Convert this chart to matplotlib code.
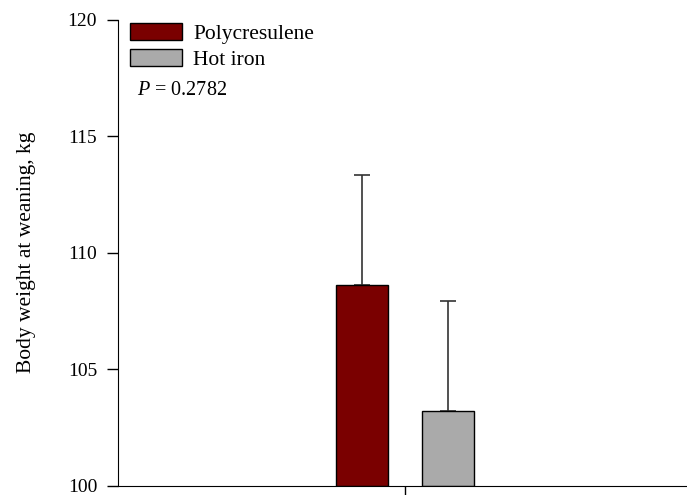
import matplotlib
matplotlib.use("Agg")
import matplotlib.pyplot as plt
import numpy as np

plt.rcParams['font.family'] = ['Liberation Serif', 'DejaVu Serif']
plt.rcParams['mathtext.fontset'] = 'custom'
plt.rcParams['mathtext.rm'] = 'Liberation Serif'
plt.rcParams['mathtext.it'] = 'Liberation Serif:italic'

# donnees
groupes = ["Polycresulene", "Hot iron"]
moyennes = [108.6, 103.2]
erreurs = [4.75, 4.75]
couleurs = ["#7a0000", "#aaaaaa"]
p_valeur = "0.2782"

fig = plt.figure(figsize=(6.87, 4.95), dpi=100)
ax = fig.add_axes([0.1718, 0.019, 0.8355, 0.9406])

pos = np.array([-0.5, 0.5])
for i in range(len(groupes)):
    ax.bar(pos[i], moyennes[i] - 100, bottom=100, width=0.61,
           color=couleurs[i], edgecolor="black", linewidth=1.0,
           label=groupes[i], zorder=2)
    ax.errorbar(pos[i], moyennes[i], yerr=[[0], [erreurs[i]]], fmt="none",
                ecolor="#333333", elinewidth=1.2, capsize=6, capthick=1.2,
                zorder=1)

ax.set_xlim(-3.36, 3.36)
ax.set_ylim(100, 120)
ax.set_yticks([100, 105, 110, 115, 120])
ax.set_xticks([0])
ax.set_xticklabels([""])
ax.tick_params(axis="both", direction="out", length=8, width=1, labelsize=14, pad=7)
ax.spines["top"].set_visible(False)
ax.spines["right"].set_visible(False)
ax.set_ylabel("Body weight at weaning, kg", fontsize=15.5, labelpad=23)

ax.legend(loc="upper left", bbox_to_anchor=(-0.013, 1.035), frameon=False,
          fontsize=15.5, handlelength=2.4, handleheight=0.8, handletextpad=0.55,
          labelspacing=0.25)
ax.text(0.033, 0.838, "$P$ = " + p_valeur, transform=ax.transAxes, fontsize=14.5)

fig.savefig("out.png", dpi=100)
